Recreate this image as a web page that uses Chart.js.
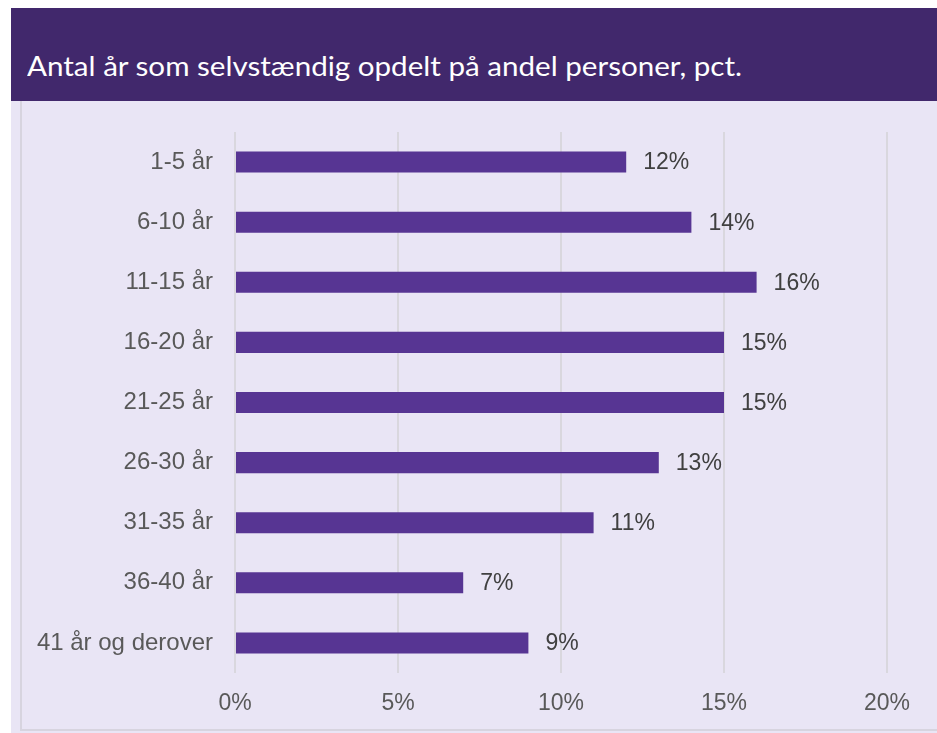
<!DOCTYPE html>
<html>
<head>
<meta charset="utf-8">
<script src="https://cdn.jsdelivr.net/npm/chart.js@4/dist/chart.umd.min.js"></script>
<style>
  html, body { margin: 0; padding: 0; background: #ffffff; width: 937px; height: 733px; overflow: hidden; }
  #header { position: absolute; left: 11px; top: 8px; width: 926px; height: 93px; background: #41286C; }
  #title { position: absolute; left: 16px; top: 44px; color: #ffffff; font-family: Lato, "Open Sans", sans-serif; font-size: 27px; white-space: nowrap; transform-origin: 0 0; line-height: 1; }
  #panel { position: absolute; left: 11px; top: 101px; width: 926px; height: 632px; background: #E9E5F5; }
  #frame { position: absolute; left: 20px; top: 101px; width: 917px; height: 630px; border-left: 2px solid #D7D4DF; border-bottom: 2px solid #D7D4DF; box-sizing: border-box; }
  #wrap { position: absolute; left: 20px; top: 101px; width: 917px; height: 630px; }
</style>
</head>
<body>
<div id="header"><div id="title">Antal år som selvstændig opdelt på andel personer, pct.</div></div>
<div id="panel"></div>
<div id="frame"></div>
<div id="wrap"><canvas id="c" width="917" height="630"></canvas></div>
<script>
const categories = ["1-5 år", "6-10 år", "11-15 år", "16-20 år", "21-25 år", "26-30 år", "31-35 år", "36-40 år", "41 år og derover"];
const shares = [12, 14, 16, 15, 15, 13, 11, 7, 9];
const xTicks = [0, 5, 10, 15, 20];

// fit title width
const t = document.getElementById('title');
const w = t.getBoundingClientRect().width;
t.style.transform = 'scaleX(' + (715 / w) + ')';

const valueLabels = {
  id: 'valueLabels',
  afterDatasetsDraw(chart) {
    const ctx = chart.ctx;
    const meta = chart.getDatasetMeta(0);
    ctx.save();
    ctx.font = '23px "Liberation Sans", Arial, sans-serif';
    ctx.fillStyle = '#404040';
    ctx.textAlign = 'left';
    ctx.textBaseline = 'middle';
    meta.data.forEach((bar, i) => {
      ctx.fillText(shares[i] + '%', bar.x + 17, bar.y + 1);
    });
    ctx.restore();
  }
};

new Chart(document.getElementById('c'), {
  type: 'bar',
  data: {
    labels: categories,
    datasets: [{
      data: shares,
      backgroundColor: '#573593',
      borderWidth: 0,
      barPercentage: 0.35,
      categoryPercentage: 1.0
    }]
  },
  options: {
    indexAxis: 'y',
    responsive: false,
    animation: false,
    devicePixelRatio: 1,
    layout: { padding: { top: 31, right: 50, bottom: 0, left: 0 } },
    plugins: { legend: { display: false }, tooltip: { enabled: false } },
    scales: {
      x: {
        min: 0, max: 20,
        afterBuildTicks(scale) { scale.ticks = xTicks.map(v => ({ value: v })); },
        afterFit(scale) { scale.height = 58; scale.paddingLeft = 0; scale.paddingRight = 0; },
        grid: { color: '#D9D7DE', lineWidth: 2, drawTicks: false },
        border: { display: false },
        ticks: {
          padding: 17,
          color: '#595959',
          font: { family: '"Liberation Sans", Arial, sans-serif', size: 23 },
          callback: v => v + '%'
        }
      },
      y: {
        afterFit(scale) { scale.width = 215; scale.paddingTop = 0; scale.paddingBottom = 0; },
        grid: { display: false, drawTicks: false },
        border: { display: false },
        ticks: {
          padding: 22,
          color: '#595959',
          font: { family: '"Liberation Sans", Arial, sans-serif', size: 24 }
        }
      }
    }
  },
  plugins: [valueLabels]
});
</script>
</body>
</html>
